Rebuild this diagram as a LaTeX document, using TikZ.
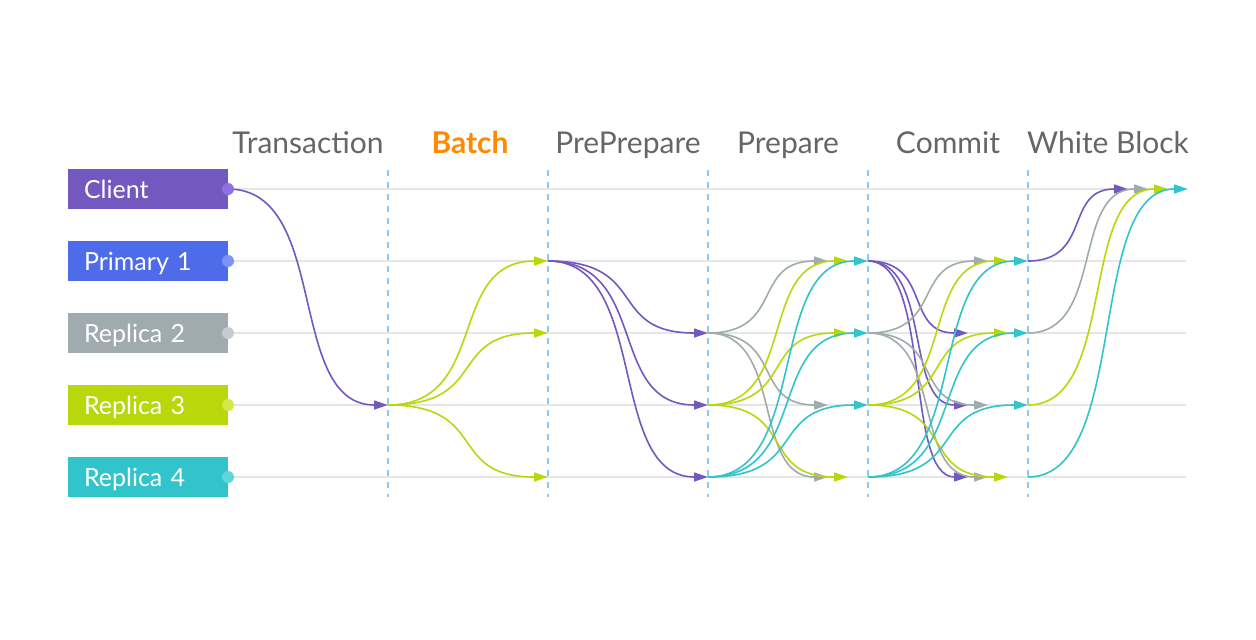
\documentclass[tikz,border=0pt]{standalone}
\usepackage{fontspec}
\setmainfont{Lato}
\usetikzlibrary{arrows.meta,calc}
\definecolor{cpurple}{HTML}{7359BF}
\definecolor{cblue}{HTML}{4E6BEA}
\definecolor{cgray}{HTML}{A0ABAE}
\definecolor{clime}{HTML}{B8D80B}
\definecolor{ccyan}{HTML}{31C4CB}
\definecolor{dpurple}{HTML}{8C70E4}
\definecolor{dblue}{HTML}{7C94F2}
\definecolor{dgray}{HTML}{C3CCCE}
\definecolor{dlime}{HTML}{D3E846}
\definecolor{dcyan}{HTML}{5ED6DB}
\definecolor{headgray}{HTML}{666666}
\definecolor{batchorange}{HTML}{FF8A00}
\definecolor{hlinegray}{HTML}{E6E6E6}
\definecolor{vdashblue}{HTML}{8CC8F5}
\tikzset{
  rowbox/.style={fill=#1, text=white, minimum width=160pt, minimum height=40pt,
    inner xsep=16pt, inner ysep=0pt, text width=128pt, align=left,
    text height=24pt, text depth=6pt,
    font=\fontsize{25}{28}\selectfont},
  rowdot/.style={circle, fill=#1, minimum size=12pt, inner sep=0pt},
  header/.style={text=headgray, font=\fontsize{30}{34}\selectfont, inner sep=0pt, anchor=base},
  hline/.style={draw=hlinegray, line width=2pt},
  vdash/.style={draw=vdashblue, line width=1.5pt, dash pattern=on 6pt off 6pt},
  flow/.style={draw=#1, line width=1.6pt, -{Triangle[length=14pt,width=9pt]}},
}
\newcommand\flowline[3]{%
  \draw[flow=#1] let \p1=(#2), \p2=(#3), \n1={0.64*(\x2-\x1)} in
    (#2) .. controls +(\n1,0) and +(-\n1,0) .. (#3);}
\begin{document}
\begin{tikzpicture}[x=1pt,y=-1pt]
\useasboundingbox (0,0) rectangle (1256,640);
\fill[white] (0,0) rectangle (1256,640);

% coordinates
\foreach \r/\y in {c/189,p/261,r2/333,r3/405,r4/477}{
  \foreach \k/\x in {0/228,1/388,2/548,3/708,4/868,5/1028,6/1188}{
    \coordinate (\r-\k) at (\x,\y);
    \coordinate (\r-\k-pu) at (\x-60,\y);
    \coordinate (\r-\k-g) at (\x-40,\y);
    \coordinate (\r-\k-l) at (\x-20,\y);
  }
  \coordinate (\r-e) at (1186,\y);
}
\foreach \k/\x in {1/388,2/548,3/708,4/868,5/1028}{
  \coordinate (top-\k) at (\x,170);
  \coordinate (bot-\k) at (\x,497);
}

% grid
\foreach \r in {c,p,r2,r3,r4}{\draw[hline] (\r-0) -- (\r-e);}
\foreach \k in {1,...,5}{\draw[vdash] (top-\k) -- (bot-\k);}

% headers
\node[header] (hT) at (308,153) {Transaction};
\node[header, text=batchorange, font=\fontsize{30}{34}\selectfont\bfseries] (hB) at (470,153) {Batch};
\node[header] (hPP) at (628,153) {PrePrepare};
\node[header] (hP) at (788,153) {Prepare};
\node[header] (hC) at (948,153) {Commit};
\node[header] (hW) at (1108,153) {White Block};

% Transaction
\flowline{cpurple}{c-0}{r3-1}
% Batch
\flowline{clime}{r3-1}{p-2}
\flowline{clime}{r3-1}{r2-2}
\flowline{clime}{r3-1}{r4-2}
% PrePrepare
\flowline{cpurple}{p-2}{r2-3}
\flowline{cpurple}{p-2}{r3-3}
\flowline{cpurple}{p-2}{r4-3}
% Prepare
\flowline{cgray}{r2-3}{p-4-g}
\flowline{cgray}{r2-3}{r3-4-g}
\flowline{cgray}{r2-3}{r4-4-g}
\flowline{clime}{r3-3}{p-4-l}
\flowline{clime}{r3-3}{r2-4-l}
\flowline{clime}{r3-3}{r4-4-l}
\flowline{ccyan}{r4-3}{p-4}
\flowline{ccyan}{r4-3}{r2-4}
\flowline{ccyan}{r4-3}{r3-4}
% Commit
\flowline{cpurple}{p-4}{r2-5-pu}
\flowline{cpurple}{p-4}{r3-5-pu}
\flowline{cpurple}{p-4}{r4-5-pu}
\flowline{cgray}{r2-4}{p-5-g}
\flowline{cgray}{r2-4}{r3-5-g}
\flowline{cgray}{r2-4}{r4-5-g}
\flowline{clime}{r3-4}{p-5-l}
\flowline{clime}{r3-4}{r2-5-l}
\flowline{clime}{r3-4}{r4-5-l}
\flowline{ccyan}{r4-4}{p-5}
\flowline{ccyan}{r4-4}{r2-5}
\flowline{ccyan}{r4-4}{r3-5}
% White Block
\flowline{cpurple}{p-5}{c-6-pu}
\flowline{cgray}{r2-5}{c-6-g}
\flowline{clime}{r3-5}{c-6-l}
\flowline{ccyan}{r4-5}{c-6}

% boxes
\node[rowbox=cpurple] (bc) at (148,189) {Client};
\node[rowbox=cblue] (bp) at (148,261) {Primary 1};
\node[rowbox=cgray] (br2) at (148,333) {Replica 2};
\node[rowbox=clime] (br3) at (148,405) {Replica 3};
\node[rowbox=ccyan] (br4) at (148,477) {Replica 4};
\node[rowdot=dpurple] (dc) at (c-0) {};
\node[rowdot=dblue] (dp) at (p-0) {};
\node[rowdot=dgray] (dr2) at (r2-0) {};
\node[rowdot=dlime] (dr3) at (r3-0) {};
\node[rowdot=dcyan] (dr4) at (r4-0) {};
\end{tikzpicture}
\end{document}
